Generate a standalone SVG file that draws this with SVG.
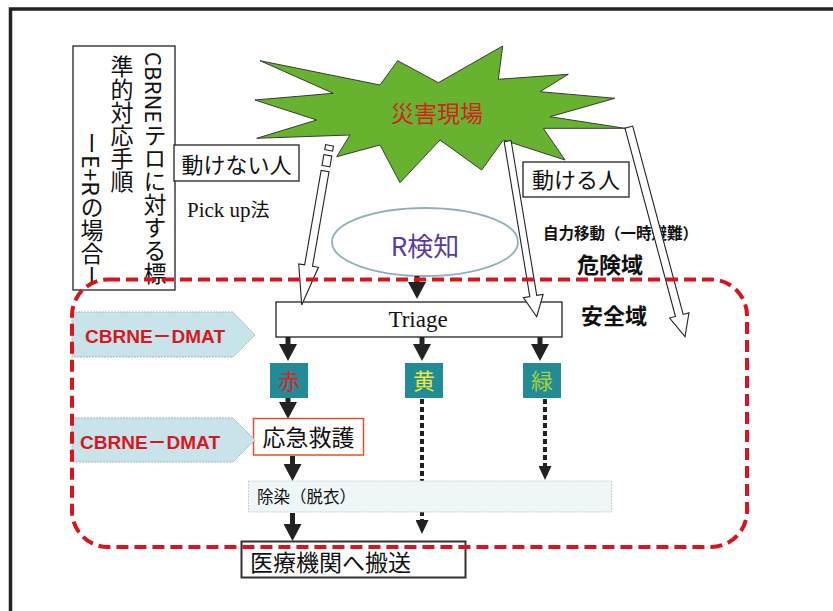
<svg xmlns="http://www.w3.org/2000/svg" width="833" height="611" viewBox="0 0 833 611">
<defs>
<style>
.jp{font-family:'Noto Sans CJK JP','Liberation Sans',sans-serif;fill:#111}
.serif{font-family:'Liberation Serif','Noto Sans CJK JP',serif;fill:#111}
.box{fill:#fff;stroke:#222;stroke-width:1.3}
.hollow{fill:#fff;stroke:#222;stroke-width:1.1;stroke-linejoin:miter}
.solid{stroke:#222;stroke-width:5;fill:none}
.dot{stroke:#222;stroke-width:4;stroke-dasharray:5 3;fill:none}
.sq{fill:#218c96}
.penta{fill:#c8e3ea;stroke:#9fb6bb;stroke-width:1;stroke-dasharray:2 1}
.dmat{font-family:'Liberation Sans','Noto Sans CJK JP',sans-serif;font-weight:bold;font-size:19px;fill:#d7191f}
.vt{font-family:'Noto Sans CJK JP',sans-serif;font-size:23px;fill:#111;writing-mode:vertical-rl}
</style>
<marker id="tri" viewBox="0 0 17 18" markerWidth="17" markerHeight="18" refX="1" refY="9" orient="auto" markerUnits="userSpaceOnUse">
<path d="M0,0 L17,9 L0,18 Z" fill="#222"/>
</marker>
<marker id="tri2" viewBox="0 0 14 13" markerWidth="14" markerHeight="13" refX="1" refY="6.5" orient="auto" markerUnits="userSpaceOnUse">
<path d="M0,0 L14,6.5 L0,13 Z" fill="#222"/>
</marker>
</defs>
<rect width="833" height="611" fill="#fff"/>
<rect x="10.5" y="9" width="840" height="620" fill="none" stroke="#222" stroke-width="3.5"/>

<g id="title">
<rect class="box" x="73" y="46" width="102" height="244"/>
<text class="vt" x="155" y="52"><tspan font-size="22px">CBRNE</tspan>テロに対する標</text>
<text class="vt" x="122" y="55">準的対応手順</text>
<text class="vt" x="92" y="132">ーE+Rの場合ー</text>
</g>

<g id="disaster-site">
<polygon points="260,60.7 380,85 397.7,60.7 438.3,82.7 502.7,46 498.3,79.3 568.3,74.3 540,91.7 615,98.3 550,116.7 625,128.3 543.3,128.3 565,160 503.3,140 481.7,170 440,140 400,182.7 380,145 336.7,156.7 350,135 256.7,138.3 316.7,120 255,100 333.3,93.3" fill="#67b32f" stroke="#3a3a3a" stroke-width="1"/>
<text class="jp" x="437" y="122" font-size="23" text-anchor="middle" style="fill:#d42222">災害現場</text>
</g>

<g id="immobile">
<rect class="box" x="174" y="145" width="125" height="36"/>
<text class="jp" x="236.5" y="173" font-size="22" text-anchor="middle">動けない人</text>
</g>
<g id="pickup">
<text class="serif" x="187" y="217" font-size="21">Pick up<tspan font-family="'Noto Sans CJK JP',sans-serif" font-size="19">法</tspan></text>
</g>

<g id="mobile">
<rect class="box" x="523" y="162" width="106" height="35"/>
<text class="jp" x="576" y="188" font-size="22" text-anchor="middle">動ける人</text>
</g>

<g id="self-move">
<text class="jp" x="543" y="239" font-size="15.5" font-weight="bold">自力移動（一時避難）</text>
</g>
<g id="danger-zone-label">
<text class="jp" x="577" y="273" font-size="22" font-weight="bold">危険域</text>
</g>
<g id="safe-zone-label">
<text class="jp" x="581" y="324" font-size="22" font-weight="bold">安全域</text>
</g>

<g id="r-detect">
<ellipse cx="425" cy="242" rx="93" ry="34" fill="#fff" stroke="#8fb0b8" stroke-width="1.8"/>
<text x="425" y="256" font-size="26" text-anchor="middle" font-family="'Noto Sans CJK JP',sans-serif" fill="#5b3a9e">R検知</text>
</g>

<g id="triage">
<rect class="box" x="276" y="302" width="286" height="35"/>
<text class="serif" x="418" y="327" font-size="23" text-anchor="middle">Triage</text>
</g>

<g id="connectors">
<g transform="translate(301.7,305) rotate(9.9)">
<path class="hollow" d="M0,0 L-10,-40 L-4,-40 L-4,-136 L4,-136 L4,-40 L10,-40 Z"/>
<rect class="hollow" x="-4" y="-152" width="8" height="11"/>
<rect class="hollow" x="-4" y="-162" width="8" height="5"/>
</g>
<g transform="translate(536.7,316.7) rotate(-9.4)">
<path class="hollow" d="M0,0 L-10,-21 L-3.5,-21 L-3.5,-178 L3.5,-178 L3.5,-21 L10,-21 Z"/>
</g>
<g transform="translate(685,336.7) rotate(-15)">
<path class="hollow" d="M0,0 L-10,-22 L-4,-22 L-4,-217 L4,-217 L4,-22 L10,-22 Z"/>
</g>
<line class="solid" x1="417" y1="276" x2="417" y2="283" marker-end="url(#tri)"/>
<line class="solid" x1="288" y1="337" x2="288" y2="345" marker-end="url(#tri)"/>
<line class="solid" x1="422" y1="337" x2="422" y2="345" marker-end="url(#tri)"/>
<line class="solid" x1="540" y1="337" x2="540" y2="345" marker-end="url(#tri)"/>
<line class="solid" x1="288" y1="398" x2="288" y2="403" marker-end="url(#tri)"/>
<line class="solid" x1="292.5" y1="456" x2="292.5" y2="465" marker-end="url(#tri)"/>
<line class="solid" x1="292.5" y1="513" x2="292.5" y2="525" marker-end="url(#tri)"/>
<line class="dot" x1="422" y1="399" x2="422" y2="521" marker-end="url(#tri2)"/>
<line class="dot" x1="545" y1="399" x2="545" y2="467" marker-end="url(#tri2)"/>
</g>

<g id="red">
<rect class="sq" x="270" y="363" width="38" height="35"/>
<text class="jp" x="289" y="389" font-size="22" text-anchor="middle" style="fill:#e0202a">赤</text>
</g>
<g id="yellow">
<rect class="sq" x="405" y="363" width="38" height="35"/>
<text class="jp" x="424" y="389" font-size="22" text-anchor="middle" style="fill:#f2ea3a">黄</text>
</g>
<g id="green">
<rect class="sq" x="523" y="363" width="38" height="35"/>
<text class="jp" x="542" y="389" font-size="22" text-anchor="middle" style="fill:#a8d03a">緑</text>
</g>

<g id="first-aid">
<rect x="253.5" y="418.5" width="110" height="36.5" fill="#fff" stroke="#e2512c" stroke-width="1.5"/>
<text class="jp" x="308.5" y="446" font-size="23" text-anchor="middle">応急救護</text>
</g>

<g id="decon">
<rect x="248.5" y="481" width="363" height="31" fill="#eef6f8" stroke="#c9d3d6" stroke-width="1" stroke-dasharray="2 1"/>
<text class="jp" x="257" y="503" font-size="16.5">除染（脱衣）</text>
</g>

<g id="transport">
<rect x="241.5" y="541.5" width="224" height="36" fill="#fff" stroke="#333" stroke-width="2"/>
<text class="jp" x="250" y="571" font-size="23">医療機関へ搬送</text>
</g>

<g id="dmat1">
<polygon class="penta" points="72,312 233,312 255,335 233,357 72,357"/>
<text class="dmat" x="85" y="343">CBRNE－DMAT</text>
</g>
<g id="dmat2">
<polygon class="penta" points="72,418 233,418 255,440 233,462 72,462"/>
<text class="dmat" x="80" y="449">CBRNE－DMAT</text>
</g>

<g id="zone">
<rect x="72" y="279.5" width="675" height="267.5" rx="36" ry="36" fill="none" stroke="#d8141e" stroke-width="4" stroke-dasharray="12 6"/>
</g>
</svg>
